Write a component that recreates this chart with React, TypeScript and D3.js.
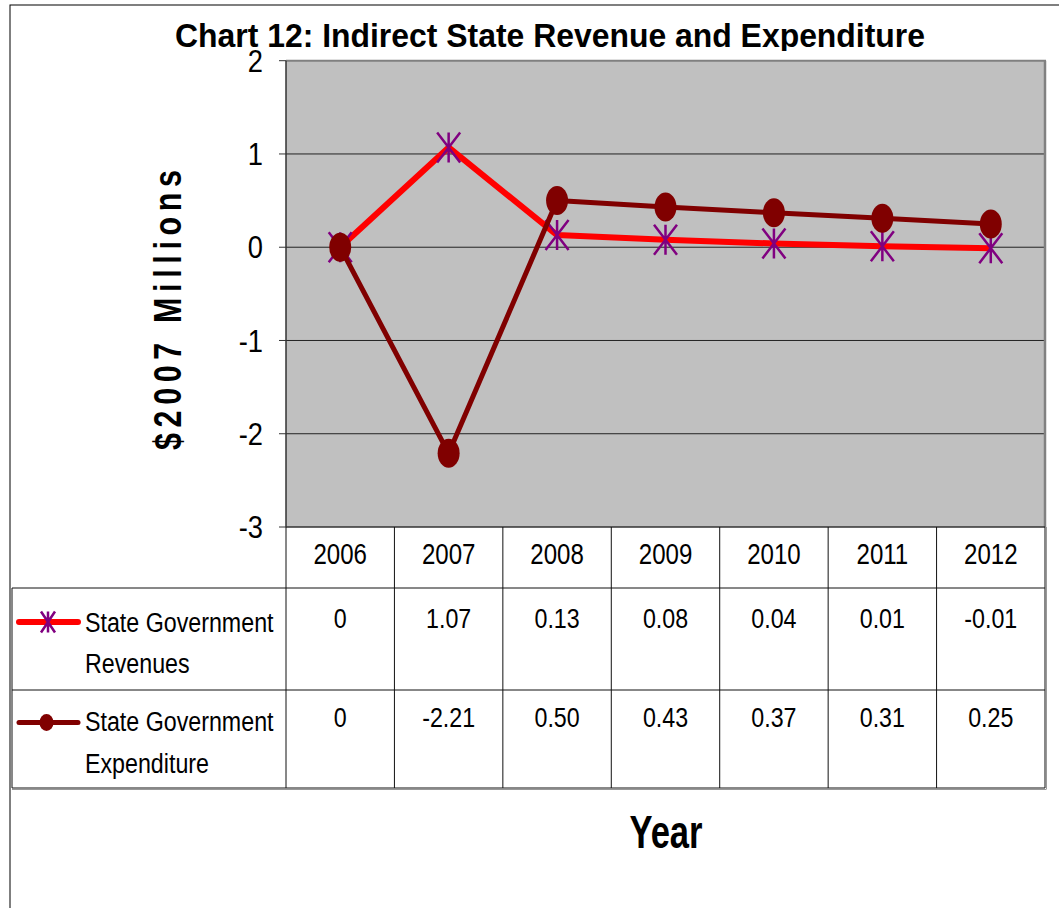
import React from 'react';
import * as d3 from 'd3';

const years = ['2006', '2007', '2008', '2009', '2010', '2011', '2012'];
const revenues = [0, 1.07, 0.13, 0.08, 0.04, 0.01, -0.01];
const expenditure = [0, -2.21, 0.5, 0.43, 0.37, 0.31, 0.25];
const revenueLabels = ['0', '1.07', '0.13', '0.08', '0.04', '0.01', '-0.01'];
const expenditureLabels = ['0', '-2.21', '0.50', '0.43', '0.37', '0.31', '0.25'];
const yTicks = [2, 1, 0, -1, -2, -3];
const gridValues = [1, 0, -1, -2];

const W = 1059;
const H = 908;
const PL = 286;
const PR = 1045;
const PT = 60.7;
const PB = 527;
const TL = 12;
const ROW0 = 588;
const ROW1 = 690;
const ROW2 = 788;

const FONT = '"Liberation Sans", Arial, sans-serif';
const SX = 0.83;

const REV_COLOR = '#FF0000';
const EXP_COLOR = '#800000';
const STAR_COLOR = '#800080';

function asterisk(w: number, h: number) {
  return `M0,${-h} V${h} M${-w},${-h} L${w},${h} M${-w},${h} L${w},${-h}`;
}

type NTProps = {
  x: number;
  y: number;
  size: number;
  anchor?: 'start' | 'middle' | 'end';
  sx?: number;
  dy?: string;
  bold?: boolean;
  children: React.ReactNode;
};

function NText({ x, y, size, anchor = 'start', sx = SX, dy, bold, children }: NTProps) {
  return (
    <g transform={`translate(${x},${y}) scale(${sx},1)`}>
      <text x={0} y={0} dy={dy} textAnchor={anchor} fontSize={size} fontWeight={bold ? 'bold' : 'normal'} fill="#000">
        {children}
      </text>
    </g>
  );
}

export default function App() {
  const x = d3.scaleBand<string>().domain(years).range([PL, PR]).paddingInner(0).paddingOuter(0);
  const y = d3.scaleLinear().domain([-3, 2]).range([PB, PT]);
  const cx = (i: number) => (x(years[i]) as number) + x.bandwidth() / 2;

  const line = d3
    .line<number>()
    .x((_, i) => cx(i))
    .y((d) => y(d));

  const colEdges = years.map((yr) => x(yr) as number).concat([PR]);

  return (
    <svg
      width={W}
      height={H}
      style={{ position: 'absolute', left: 0, top: 0, background: '#fff' }}
      fontFamily={FONT}
    >
      <defs>
        <clipPath id="titleClip">
          <rect x={0} y={0} width={W} height={51} />
        </clipPath>
      </defs>
      {/* outer chart border */}
      <rect x={10} y={5} width={1200} height={1200} fill="#fff" stroke="#000" strokeWidth={1} />

      {/* title */}
      <text
        x={550}
        y={47}
        textAnchor="middle"
        fontWeight="bold"
        fontSize={34}
        textLength={750}
        lengthAdjust="spacingAndGlyphs"
        clipPath="url(#titleClip)"
        fill="#000"
      >
        Chart 12: Indirect State Revenue and Expenditure
      </text>

      {/* plot area */}
      <rect x={PL} y={PT} width={PR - PL} height={PB - PT} fill="#C0C0C0" />
      {gridValues.map((v) => (
        <line key={v} x1={PL} x2={PR} y1={y(v)} y2={y(v)} stroke="#222" strokeWidth={1} />
      ))}
      <line x1={PL} x2={PR + 1} y1={PT} y2={PT} stroke="#808080" strokeWidth={2} />
      <line x1={PR} x2={PR} y1={PT} y2={PB} stroke="#808080" strokeWidth={2.5} />
      <line x1={PL} x2={PL} y1={PT} y2={PB} stroke="#333" strokeWidth={1.5} />
      <line x1={PL} x2={PR} y1={PB} y2={PB} stroke="#333" strokeWidth={1.5} />
      {yTicks.map((v) => (
        <g key={v}>
          <line x1={PL - 7} x2={PL} y1={y(v)} y2={y(v)} stroke="#333" strokeWidth={1} />
          <NText x={263} y={y(v)} dy="0.36em" anchor="end" size={31} sx={0.88}>
            {v}
          </NText>
        </g>
      ))}

      {/* y axis title */}
      <g transform="translate(181,310) rotate(-90) scale(0.8,1)">
        <text
          x={0}
          y={0}
          textAnchor="middle"
          fontWeight="bold"
          fontSize={38}
          textLength={350}
          lengthAdjust="spacing"
          fill="#000"
        >
          $2007 Millions
        </text>
      </g>

      {/* series */}
      <path d={line(revenues) || ''} fill="none" stroke={REV_COLOR} strokeWidth={6} strokeLinejoin="round" />
      {revenues.map((v, i) => (
        <path
          key={'r' + i}
          transform={`translate(${cx(i)},${y(v)})`}
          d={asterisk(11.5, 15)}
          stroke={STAR_COLOR}
          strokeWidth={2.5}
          fill="none"
        />
      ))}
      <path d={line(expenditure) || ''} fill="none" stroke={EXP_COLOR} strokeWidth={5} strokeLinejoin="round" />
      {expenditure.map((v, i) => (
        <ellipse key={'e' + i} cx={cx(i)} cy={y(v)} rx={11} ry={14.5} fill={EXP_COLOR} />
      ))}

      {/* data table */}
      <g stroke="#111" strokeWidth={1}>
        {colEdges.map((ex, i) => (
          <line key={'v' + i} x1={ex} x2={ex} y1={PB} y2={ROW2} />
        ))}
        <line x1={TL} x2={TL} y1={ROW0} y2={ROW2} />
        <line x1={TL} x2={PR} y1={ROW0} y2={ROW0} />
        <line x1={TL} x2={PR} y1={ROW1} y2={ROW1} />
        <line x1={TL} x2={PR} y1={ROW2} y2={ROW2} />
      </g>
      <line x1={PR + 1.5} x2={PR + 1.5} y1={PB} y2={ROW2 + 1} stroke="#999" strokeWidth={1} />
      <line x1={TL} x2={PR + 1.5} y1={ROW2 + 1.5} y2={ROW2 + 1.5} stroke="#999" strokeWidth={1} />

      {years.map((yr, i) => (
        <NText key={yr} x={cx(i)} y={564} anchor="middle" size={29}>
          {yr}
        </NText>
      ))}
      {revenueLabels.map((t, i) => (
        <NText key={'rl' + i} x={cx(i)} y={628} anchor="middle" size={28}>
          {t}
        </NText>
      ))}
      {expenditureLabels.map((t, i) => (
        <NText key={'el' + i} x={cx(i)} y={727} anchor="middle" size={28}>
          {t}
        </NText>
      ))}

      {/* legend keys */}
      <line x1={19} x2={78} y1={622} y2={622} stroke={REV_COLOR} strokeWidth={6} strokeLinecap="round" />
      <path transform="translate(48,622)" d={asterisk(7, 10.5)} stroke={STAR_COLOR} strokeWidth={2.5} fill="none" />
      <line x1={19} x2={78} y1={722.5} y2={722.5} stroke={EXP_COLOR} strokeWidth={5} strokeLinecap="round" />
      <ellipse cx={46.5} cy={722.5} rx={7} ry={8.5} fill={EXP_COLOR} />

      <NText x={85} y={632} size={28}>State Government</NText>
      <NText x={85} y={673} size={28}>Revenues</NText>
      <NText x={85} y={731} size={28}>State Government</NText>
      <NText x={85} y={773} size={28}>Expenditure</NText>

      {/* x axis title */}
      <text
        x={666}
        y={848}
        textAnchor="middle"
        fontWeight="bold"
        fontSize={46}
        textLength={73}
        lengthAdjust="spacingAndGlyphs"
        fill="#000"
      >
        Year
      </text>
    </svg>
  );
}
